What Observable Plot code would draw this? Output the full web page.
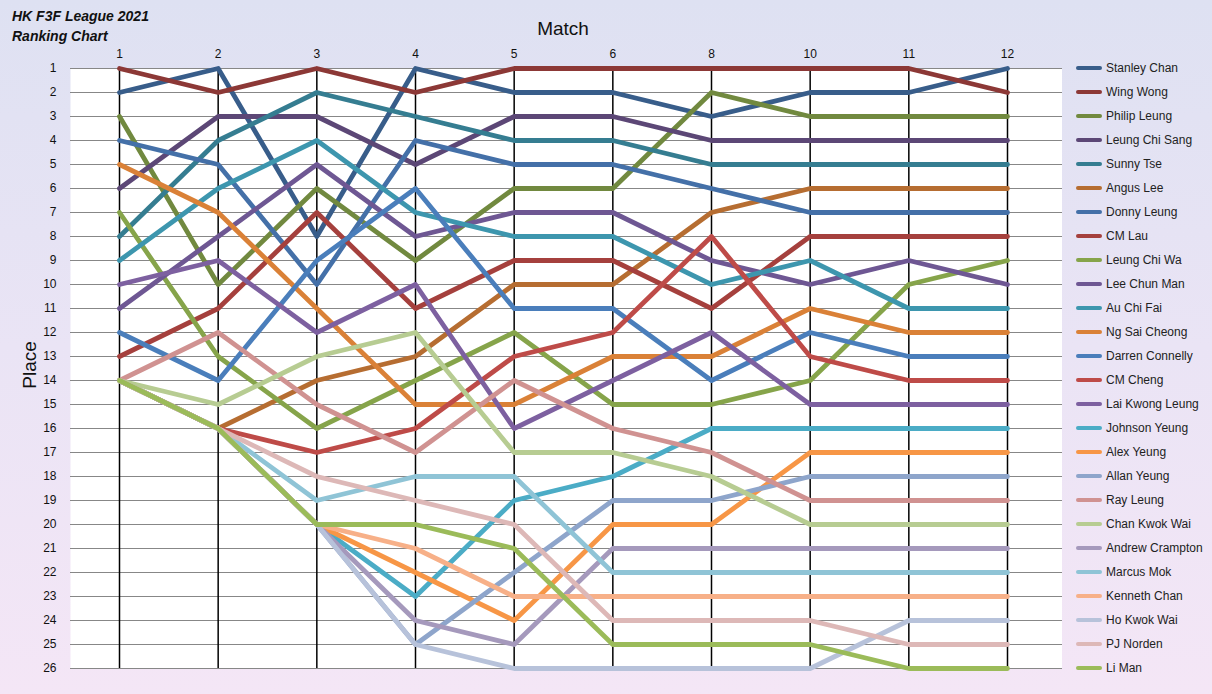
<!DOCTYPE html>
<html>
<head>
<meta charset="utf-8">
<script src="https://cdn.jsdelivr.net/npm/d3@7"></script>
<script src="https://cdn.jsdelivr.net/npm/@observablehq/plot@0.6"></script>
<style>
  html, body { margin: 0; padding: 0; }
  body { width: 1212px; height: 694px; overflow: hidden; font-family: "Liberation Sans", Arial, sans-serif; }
  #wrap { position: relative; width: 1212px; height: 694px;
    background: linear-gradient(to bottom, #DEE1F2 0%, #EAE4F5 50%, #F4E6F6 100%); }
  #chart { position: absolute; left: 0; top: 0; }
  .title { position: absolute; left: 12px; font-weight: bold; font-style: italic; font-size: 14px; color: #111; }
  #matchLabel { position: absolute; left: 0; width: 1126px; text-align: center; top: 18px; font-size: 19px; color: #111; }
  #placeLabel { position: absolute; left: 30px; top: 365px; font-size: 19px; color: #111;
    transform: translate(-50%, -50%) rotate(-90deg); transform-origin: center; }
  #legend { position: absolute; left: 1076px; top: 0; }
  .item { position: absolute; left: 0; height: 20px; display: flex; align-items: center; white-space: nowrap; font-size: 12px; color: #222; }
  .swatch { width: 26px; height: 4px; margin-right: 4px; border-radius: 2px; }
</style>
</head>
<body>
<div id="wrap">
  <div id="chart"></div>
  <div class="title" style="top:8px">HK F3F League 2021</div>
  <div class="title" style="top:28px">Ranking Chart</div>
  <div id="matchLabel">Match</div>
  <div id="placeLabel">Place</div>
  <div id="legend"></div>
</div>
<script>
const matches = [1, 2, 3, 4, 5, 6, 8, 10, 11, 12];
const placeTicks = d3.range(1, 27);

const players = [
  "Stanley Chan", "Wing Wong", "Philip Leung", "Leung Chi Sang", "Sunny Tse", "Angus Lee",
  "Donny Leung", "CM Lau", "Leung Chi Wa", "Lee Chun Man", "Au Chi Fai", "Ng Sai Cheong",
  "Darren Connelly", "CM Cheng", "Lai Kwong Leung", "Johnson Yeung", "Alex Yeung", "Allan Yeung",
  "Ray Leung", "Chan Kwok Wai", "Andrew Crampton", "Marcus Mok", "Kenneth Chan", "Ho Kwok Wai",
  "PJ Norden", "Li Man"
];

const colors = [
  "#385D8A", "#8C3836", "#71893F", "#5C4776", "#357D91", "#B66D31",
  "#4470A8", "#A5403D", "#86A44A", "#6E5793", "#3D96AE", "#DA8137",
  "#4A7EBB", "#BE4B48", "#7D60A0", "#4BACC6", "#F79646", "#8EA5CB",
  "#D09291", "#B7CC92", "#A599BC", "#8FC4D6", "#F7B088", "#B7C2DA",
  "#DDB8B7", "#9BBB59"
];

// place of each player at matches 1,2,3,4,5,6,8,10,11,12 (same order as players)
const places = [
  [2, 1, 8, 1, 2, 2, 3, 2, 2, 1],
  [1, 2, 1, 2, 1, 1, 1, 1, 1, 2],
  [3, 10, 6, 9, 6, 6, 2, 3, 3, 3],
  [6, 3, 3, 5, 3, 3, 4, 4, 4, 4],
  [8, 4, 2, 3, 4, 4, 5, 5, 5, 5],
  [14, 16, 14, 13, 10, 10, 7, 6, 6, 6],
  [4, 5, 10, 4, 5, 5, 6, 7, 7, 7],
  [13, 11, 7, 11, 9, 9, 11, 8, 8, 8],
  [7, 13, 16, 14, 12, 15, 15, 14, 10, 9],
  [11, 8, 5, 8, 7, 7, 9, 10, 9, 10],
  [9, 6, 4, 7, 8, 8, 10, 9, 11, 11],
  [5, 7, 11, 15, 15, 13, 13, 11, 12, 12],
  [12, 14, 9, 6, 11, 11, 14, 12, 13, 13],
  [14, 16, 17, 16, 13, 12, 8, 13, 14, 14],
  [10, 9, 12, 10, 16, 14, 12, 15, 15, 15],
  [14, 16, 20, 23, 19, 18, 16, 16, 16, 16],
  [14, 16, 20, 22, 24, 20, 20, 17, 17, 17],
  [14, 16, 20, 25, 22, 19, 19, 18, 18, 18],
  [14, 12, 15, 17, 14, 16, 17, 19, 19, 19],
  [14, 15, 13, 12, 17, 17, 18, 20, 20, 20],
  [14, 16, 20, 24, 25, 21, 21, 21, 21, 21],
  [14, 16, 19, 18, 18, 22, 22, 22, 22, 22],
  [14, 16, 20, 21, 23, 23, 23, 23, 23, 23],
  [14, 16, 20, 25, 26, 26, 26, 26, 24, 24],
  [14, 16, 18, 19, 20, 24, 24, 24, 25, 25],
  [14, 16, 20, 20, 21, 25, 25, 25, 26, 26]
];

const data = players.flatMap((player, i) =>
  matches.map((match, j) => ({player, match, place: places[i][j]}))
);

const chart = Plot.plot({
  width: 1062,
  height: 694,
  marginLeft: 70,
  marginRight: 0,
  marginTop: 68,
  marginBottom: 26,
  style: {background: "transparent", fontFamily: "Liberation Sans, Arial, sans-serif", fontSize: "12px", color: "#111"},
  x: {type: "point", domain: matches, range: [119, 1007], padding: 0, round: false},
  y: {domain: [1, 26], range: [68, 668]},
  color: {domain: players, range: colors},
  marks: [
    Plot.frame({fill: "white", stroke: null}),
    Plot.gridY(placeTicks, {stroke: "#878787", strokeOpacity: 1, strokeWidth: 1.2}),
    Plot.ruleX(matches, {x: d => d, stroke: "black", strokeWidth: 1.5}),
    Plot.axisY(placeTicks, {anchor: "left", tickSize: 0, tickPadding: 14, label: null, fontSize: 12}),
    Plot.axisX(matches, {anchor: "top", tickSize: 0, tickPadding: 11, label: null, fontSize: 12}),
    Plot.line(data, {x: "match", y: "place", z: "player", stroke: "player",
      strokeWidth: 4.8, strokeLinejoin: "round", strokeLinecap: "round"})
  ]
});
document.getElementById("chart").append(chart);

const legend = document.getElementById("legend");
const yScale = chart.scale("y");
players.forEach((p, i) => {
  const item = document.createElement("div");
  item.className = "item";
  item.style.top = (yScale.apply(i + 1) - 10) + "px";
  const sw = document.createElement("div");
  sw.className = "swatch";
  sw.style.background = colors[i];
  const label = document.createElement("span");
  label.textContent = p;
  item.append(sw, label);
  legend.append(item);
});
</script>
</body>
</html>
